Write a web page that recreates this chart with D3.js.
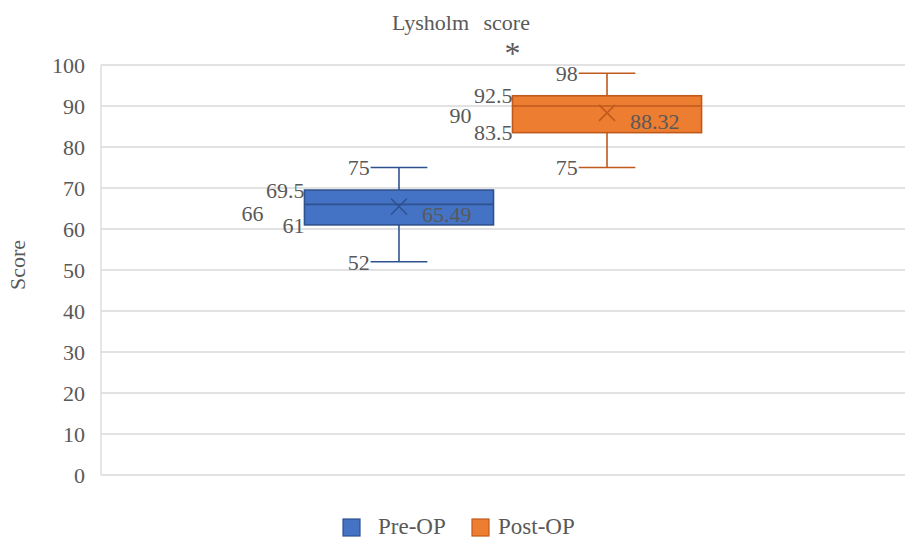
<!DOCTYPE html>
<html><head><meta charset="utf-8">
<script src="https://cdn.jsdelivr.net/npm/d3@7"></script>
<style>body{margin:0;background:#fff}text{font-family:"Liberation Serif","DejaVu Serif",serif;fill:#595959}</style>
</head><body>
<svg id="c" width="907" height="539"></svg>
<script>
const categories = ["Pre-OP", "Post-OP"];
const minVals = [52, 75];
const q1Vals = [61, 83.5];
const medianVals = [66, 90];
const q3Vals = [69.5, 92.5];
const maxVals = [75, 98];
const meanVals = [65.49, 88.32];
const yTicks = [0, 10, 20, 30, 40, 50, 60, 70, 80, 90, 100];
const fills = ["#4472C4", "#ED7D31"];
const strokes = ["#2F528F", "#C05A1C"];

(function () {
const svg = d3.select("#c");
const pL = 101, pR = 905, pT = 65, pB = 475, fs = 22;
const y = d3.scaleLinear().domain([0, 100]).range([pB, pT]);
const x = d3.scaleBand().domain(categories).range([pL, pR]).paddingInner(0.0913).paddingOuter(0.978);

svg.append("g").selectAll("line").data(yTicks).join("line")
  .attr("x1", pL).attr("x2", pR).attr("y1", d => y(d)).attr("y2", d => y(d))
  .attr("stroke", "#D9D9D9").attr("stroke-width", 1.3);
svg.append("line").attr("x1", pL).attr("x2", pL).attr("y1", y(0)).attr("y2", y(100))
  .attr("stroke", "#D9D9D9").attr("stroke-width", 1.3);

const ax = svg.append("g").attr("transform", `translate(${pL - 16},0)`)
  .call(d3.axisLeft(y).tickValues(yTicks).tickSize(0).tickPadding(0).tickFormat(d3.format("d")));
ax.select(".domain").remove();
ax.attr("font-family", null).attr("font-size", null);
ax.selectAll("text").attr("font-size", fs).attr("fill", "#595959").attr("dy", "0.35em");

svg.append("text").attr("transform", `translate(25,${(pT + pB) / 2 - 5}) rotate(-90)`)
  .attr("text-anchor", "middle").attr("font-size", fs).text("Score");

svg.append("text").attr("x", 461).attr("y", 30).attr("text-anchor", "middle")
  .attr("font-size", fs).attr("word-spacing", 9).text("Lysholm score");

const data = categories.map((c, i) => ({c, i, min: minVals[i], q1: q1Vals[i], med: medianVals[i], q3: q3Vals[i], max: maxVals[i], mean: meanVals[i]}));

const g = svg.append("g").selectAll("g").data(data).join("g");
g.each(function(d) {
  const s = d3.select(this);
  const x0 = x(d.c), bw = x.bandwidth(), cx = x0 + bw / 2, cw = bw * 0.3;
  const st = strokes[d.i];
  const ln = (x1, y1, x2, y2) => s.append("line").attr("x1", x1).attr("x2", x2).attr("y1", y1).attr("y2", y2).attr("stroke", st).attr("stroke-width", 1.6);
  ln(cx, y(d.max), cx, y(d.q3));
  ln(cx, y(d.q1), cx, y(d.min));
  ln(cx - cw / 2, y(d.max), cx + cw / 2, y(d.max));
  ln(cx - cw / 2, y(d.min), cx + cw / 2, y(d.min));
  s.append("rect").attr("x", x0).attr("y", y(d.q3)).attr("width", bw).attr("height", y(d.q1) - y(d.q3))
    .attr("fill", fills[d.i]).attr("stroke", st).attr("stroke-width", 1.6);
  ln(x0, y(d.med), x0 + bw, y(d.med));
  const m = 8, my = y(d.mean);
  s.append("path").attr("d", `M${cx - m},${my - m}L${cx + m},${my + m}M${cx - m},${my + m}L${cx + m},${my - m}`)
    .attr("stroke", st).attr("stroke-width", 1.5).attr("fill", "none");
  const lab = (tx, ty, t, anchor) => s.append("text").attr("x", tx).attr("y", ty).attr("dy", "0.35em")
    .attr("text-anchor", anchor).attr("font-size", fs).text(t);
  lab(cx - cw / 2 - 1, y(d.max), d.max, "end");
  lab(cx - cw / 2 - 1, y(d.min), d.min, "end");
  lab(x0, y(d.q3), d.q3, "end");
  lab(x0, y(d.q1), d.q1, "end");
  lab(x0 - 41, y(d.med) + 9, d.med, "end");
  lab(cx + 23, y(d.mean) + 8, d.mean.toFixed(2), "start");
});

svg.append("text").attr("x", x("Post-OP")).attr("y", 64).attr("text-anchor", "middle")
  .attr("font-size", 32).attr("fill", "#404040").text("*");

const leg = [{c: categories[0], x: 343, tx: 378}, {c: categories[1], x: 472, tx: 498}];
const lg = svg.append("g").selectAll("g").data(leg).join("g");
lg.append("rect").attr("x", d => d.x).attr("y", 519).attr("width", 17).attr("height", 17)
  .attr("fill", (d, i) => fills[i]).attr("stroke", (d, i) => strokes[i]).attr("stroke-width", 1.2);
lg.append("text").attr("x", d => d.tx).attr("y", 534).attr("font-size", fs + 1).text(d => d.c);
})();
</script>
</body></html>
